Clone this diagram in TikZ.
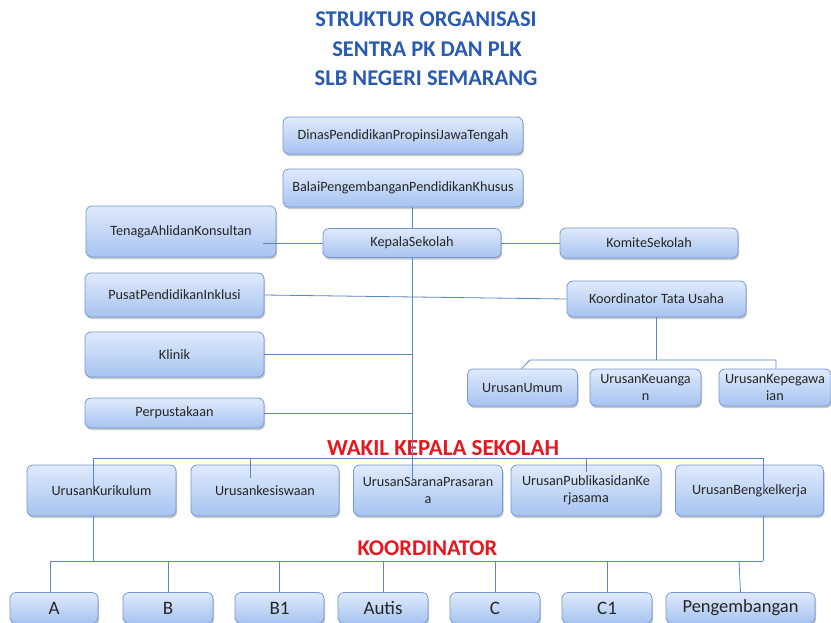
\documentclass[tikz,border=0pt]{standalone}
\usepackage{fontspec}
\setmainfont{Carlito}
\usetikzlibrary{shadows,calc}
\definecolor{boxtop}{RGB}{224,234,252}
\definecolor{boxbot}{RGB}{166,195,240}
\definecolor{boxline}{RGB}{118,152,212}
\definecolor{connc}{RGB}{88,132,200}
\definecolor{titleblue}{RGB}{40,90,178}
\definecolor{wakilred}{RGB}{228,24,30}
\tikzset{
  orgbox/.style={draw=boxline, line width=0.8pt, rounded corners=6pt,
    top color=boxtop, bottom color=boxbot,
    drop shadow={shadow xshift=1pt, shadow yshift=-2pt, opacity=0.3, fill=black!70},
    align=center, inner sep=2pt, text=black!85,
    font=\fontsize{14.2}{17}\selectfont},
  bigbox/.style={orgbox, font=\fontsize{19}{21}\selectfont},
  conn/.style={draw=connc, line width=0.8pt},
  titletext/.style={font=\fontsize{22.5}{26}\selectfont\bfseries, text=titleblue, inner sep=0pt},
  redhead/.style={font=\fontsize{23}{26}\selectfont\bfseries, text=wakilred, inner sep=0pt}
}
\begin{document}
\begin{tikzpicture}[x=1pt,y=-1pt]
\useasboundingbox (0,0) rectangle (831,622);
\fill[white] (0,0) rectangle (831,622);

% titles
\node[titletext] (t1) at (426,19) {STRUKTUR ORGANISASI};
\node[titletext] (t2) at (427,49) {SENTRA PK DAN PLK};
\node[titletext] (t3) at (426,78) {SLB NEGERI SEMARANG};

% upper boxes
\node[orgbox, minimum width=240, minimum height=37] (dinas) at (403,135.5) {DinasPendidikanPropinsiJawaTengah};
\node[orgbox, minimum width=240, minimum height=38] (balai) at (403,188) {BalaiPengembanganPendidikanKhusus};
\node[orgbox, minimum width=190, minimum height=51] (tenaga) at (181,231.5) {TenagaAhlidanKonsultan};
\node[orgbox, minimum width=178, minimum height=29] (kepala) at (412,243) {KepalaSekolah};
\node[orgbox, minimum width=178, minimum height=30] (komite) at (649,243) {KomiteSekolah};
\node[orgbox, minimum width=179, minimum height=44] (pusat) at (174.5,295) {PusatPendidikanInklusi};
\node[orgbox, minimum width=179, minimum height=36] (ktu) at (656.5,299) {Koordinator Tata Usaha};
\node[orgbox, minimum width=179, minimum height=45] (klinik) at (174.5,354.5) {Klinik};
\node[orgbox, minimum width=179, minimum height=30] (perpus) at (174.5,413) {Perpustakaan};
\node[orgbox, minimum width=110, minimum height=37] (umum) at (522.5,387.5) {UrusanUmum};
\node[orgbox, minimum width=111, minimum height=37] (keu) at (645.5,387.5) {UrusanKeuanga\\n};
\node[orgbox, minimum width=112, minimum height=37] (kepeg) at (775,387.5) {UrusanKepegawa\\ian};

% wakil row
\node[orgbox, minimum width=149, minimum height=51] (kur) at (101.5,490.5) {UrusanKurikulum};
\node[orgbox, minimum width=148, minimum height=51] (kes) at (265,490.5) {Urusankesiswaan};
\node[orgbox, minimum width=149, minimum height=51] (sar) at (428,490.5) {UrusanSaranaPrasaran\\a};
\node[orgbox, minimum width=150, minimum height=51] (pub) at (586,490.5) {UrusanPublikasidanKe\\rjasama};
\node[orgbox, minimum width=148, minimum height=51] (beng) at (749.5,490.5) {UrusanBengkelkerja};

% bottom row
\node[bigbox, minimum width=88, minimum height=31] (ka) at (54,608) {A};
\node[bigbox, minimum width=90, minimum height=31] (kb) at (168,608) {B};
\node[bigbox, minimum width=89, minimum height=31] (kb1) at (279.5,608) {B1};
\node[bigbox, minimum width=90, minimum height=31] (kaut) at (383,608) {Autis};
\node[bigbox, minimum width=90, minimum height=31] (kc) at (495,608) {C};
\node[bigbox, minimum width=90, minimum height=31] (kc1) at (607,608) {C1};
\node[bigbox, minimum width=149, minimum height=31, font=\fontsize{18.5}{21}\selectfont] (kpeng) at (740.5,608) {Pengembangan};

% headings
\node[redhead] (wakil) at (443,448.5) {WAKIL KEPALA SEKOLAH};
\node[redhead, font=\fontsize{22.5}{26}\selectfont\bfseries] (koord) at (427.5,548) {KOORDINATOR};

% connectors: top
\coordinate (mainend) at (412,479);
\coordinate (tstart) at ($(tenaga.east)+(-13,0)$);
\draw[conn] (kepala.north |- balai.south) -- (kepala.north);
\draw[conn] (kepala.south) -- (mainend);
\draw[conn] (tstart |- kepala.west) -- (kepala.west);
\draw[conn] (kepala.east) -- (komite.west);
\draw[conn] (pusat.east) -- (ktu.west);
\draw[conn] (klinik.east) -- (klinik.east -| mainend);
\draw[conn] (perpus.east) -- (perpus.east -| mainend);

% tata usaha branch
\coordinate (tuL) at (530,360);
\coordinate (tuR) at (776,360);
\draw[conn] (ktu.south) -- (ktu.south |- tuL);
\draw[conn] ($(umum.north)+(-1,0)$) -- (tuL) -- (tuR) -- (tuR |- kepeg.north);

% wakil branch
\coordinate (wL) at (93,458);
\coordinate (wR) at (763,458);
\coordinate (kurx) at (93,490);
\coordinate (kesx) at (250,478);
\coordinate (pubx) at (586,472);
\coordinate (bengx) at (763,492);
\draw[conn] (wL) -- (wR);
\draw[conn] (wL) -- (kurx);
\draw[conn] (wL -| kesx) -- (kesx);
\draw[conn] (wL -| pubx) -- (pubx);
\draw[conn] (wR) -- (bengx);

% koordinator branch
\coordinate (kL) at (50,561);
\coordinate (kR) at (763,561);
\draw[conn] (kur.south -| wL) -- (wL |- kL);
\draw[conn] (beng.south -| wR) -- (kR);
\draw[conn] (kL) -- (kR);
\draw[conn] (kL) -- (kL |- ka.north);
\draw[conn] (kb.north |- kL) -- (kb.north);
\draw[conn] (kb1.north |- kL) -- (kb1.north);
\draw[conn] (kaut.north |- kL) -- (kaut.north);
\draw[conn] (kc.north |- kL) -- (kc.north);
\draw[conn] (kc1.north |- kL) -- (kc1.north);
\draw[conn] ($(kpeng.north |- kL)+(-1.5,0)$) -- (kpeng.north);
\end{tikzpicture}
\end{document}
